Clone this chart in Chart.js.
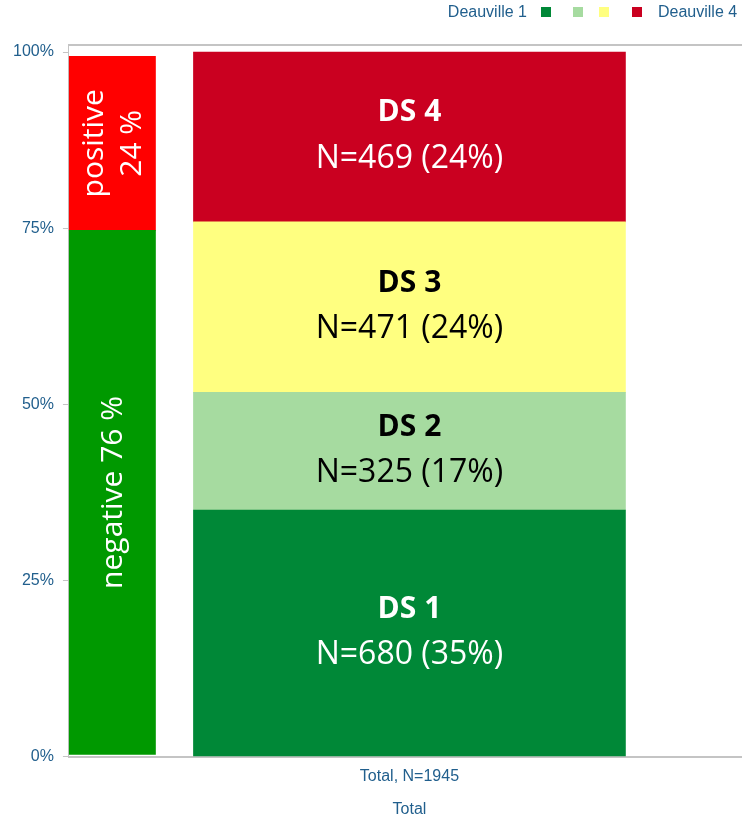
<!DOCTYPE html>
<html>
<head>
<meta charset="utf-8">
<script src="https://cdn.jsdelivr.net/npm/chart.js@4"></script>
<style>
  html, body { margin: 0; padding: 0; background: #fff; overflow: hidden; }
  /* plot frame runs off the right edge in the original, so the canvas is a bit wider than the window */
  #wrap { width: 750px; height: 819px; position: relative; }
</style>
</head>
<body>
<div id="wrap"><canvas id="dsChart"></canvas></div>
<script>
// Data
const categories = ['Total, N=1945'];
const dsNames = ['Deauville 1', 'Deauville 2', 'Deauville 3', 'Deauville 4'];
const dsShort = ['DS 1', 'DS 2', 'DS 3', 'DS 4'];
const dsCounts = [680, 325, 471, 469];
const dsPercent = [35.0, 16.7, 24.2, 24.1];
const dsPercentLabel = [35, 17, 24, 24];
const splitNames = ['negative', 'positive'];
const splitRanges = [[0.3, 74.7], [74.7, 99.4]];
const splitLabels = [['negative 76 %'], ['positive', '24 %']];
const yTicks = [0, 25, 50, 75, 100];

const dsColors = ['#008837', '#a6dba0', '#ffff80', '#ca0020'];
const dsTextColors = ['#ffffff', '#000000', '#000000', '#ffffff'];
const splitColors = ['#009900', '#ff0000'];
const axisBlue = '#215f8d';
const lineGray = '#c4c4c4';

const datasets = [];
// left narrow bar first so it is drawn on top
splitNames.forEach(function(name, i) {
  datasets.push({
    label: name,
    data: [splitRanges[i]],
    backgroundColor: splitColors[i],
    borderWidth: 0,
    grouped: false,
    xAxisID: 'x2',
    barThickness: 88,
    maxBarThickness: 88
  });
});
dsNames.forEach(function(name, i) {
  datasets.push({
    label: name,
    data: [dsPercent[i]],
    backgroundColor: dsColors[i],
    borderWidth: 0,
    stack: 'main',
    grouped: false,
    xAxisID: 'x',
    barThickness: 432,
    maxBarThickness: 432
  });
});

// Text inside the bars
const barLabels = {
  id: 'barLabels',
  afterDatasetsDraw(chart) {
    const ctx = chart.ctx;
    const nSplit = splitNames.length;
    ctx.save();
    ctx.textAlign = 'center';
    ctx.textBaseline = 'middle';
    for (let i = 0; i < dsNames.length; i++) {
      const el = chart.getDatasetMeta(nSplit + i).data[0];
      const cy = (el.y + el.base) / 2;
      ctx.fillStyle = dsTextColors[i];
      ctx.font = 'bold 30px "Open Sans"';
      ctx.fillText(dsShort[i], el.x, cy - 24);
      ctx.font = '32px "Open Sans"';
      ctx.fillText('N=' + dsCounts[i] + ' (' + dsPercentLabel[i] + '%)', el.x, cy + 22);
    }
    for (let j = 0; j < nSplit; j++) {
      const el = chart.getDatasetMeta(j).data[0];
      const cy = (el.y + el.base) / 2;
      const lines = splitLabels[j];
      ctx.save();
      ctx.translate(el.x, cy);
      ctx.rotate(-Math.PI / 2);
      ctx.fillStyle = '#ffffff';
      ctx.font = '30px "Open Sans"';
      const gap = 38;
      lines.forEach(function(t, k) {
        ctx.fillText(t, 0, (k - (lines.length - 1) / 2) * gap + 2);
      });
      ctx.restore();
    }
    ctx.restore();
  }
};

// Legend: "Deauville 1" then four swatches then "Deauville 4"
const topLegend = {
  id: 'topLegend',
  afterDraw(chart) {
    const ctx = chart.ctx;
    const boxX = [541, 573, 599, 632];
    ctx.save();
    ctx.font = '16px "Liberation Sans", Arial, sans-serif';
    ctx.fillStyle = axisBlue;
    ctx.textBaseline = 'middle';
    ctx.textAlign = 'right';
    ctx.fillText(dsNames[0], 527, 13);
    ctx.textAlign = 'left';
    ctx.fillText(dsNames[3], 658, 13);
    boxX.forEach(function(x, i) {
      ctx.fillStyle = dsColors[i];
      ctx.fillRect(x, 7, 10, 10);
    });
    ctx.restore();
  }
};

new Chart(document.getElementById('dsChart').getContext('2d'), {
  type: 'bar',
  data: { labels: categories, datasets: datasets },
  options: {
    responsive: true,
    maintainAspectRatio: false,
    animation: false,
    layout: { padding: { top: 45, left: 4, right: 0, bottom: 0 } },
    plugins: {
      legend: { display: false },
      tooltip: { enabled: false }
    },
    scales: {
      x: {
        position: 'bottom',
        grid: { display: false, drawTicks: false },
        border: { display: true, color: lineGray, width: 2 },
        ticks: { color: axisBlue, padding: 10, font: { family: '"Liberation Sans", Arial, sans-serif', size: 16 } },
        title: {
          display: true,
          text: 'Total',
          color: axisBlue,
          padding: { top: 4, bottom: 0 },
          font: { family: '"Liberation Sans", Arial, sans-serif', size: 16 }
        }
      },
      x2: {
        type: 'category',
        labels: ['', '', '', '', '', '', '', ''],
        position: 'top',
        offset: true,
        grid: { display: false, drawTicks: false },
        border: { display: true, color: lineGray, width: 2 },
        ticks: { display: false }
      },
      y: {
        min: 0,
        max: 101,
        afterBuildTicks: function(axis) {
          axis.ticks = yTicks.map(function(v) { return { value: v }; });
        },
        grid: { drawOnChartArea: false, drawTicks: true, tickLength: 6, color: lineGray },
        border: { display: true, color: lineGray, width: 1 },
        ticks: {
          color: axisBlue,
          padding: 9,
          font: { family: '"Liberation Sans", Arial, sans-serif', size: 16 },
          callback: function(v) { return v + '%'; }
        }
      }
    }
  },
  plugins: [barLabels, topLegend]
});
</script>
</body>
</html>
